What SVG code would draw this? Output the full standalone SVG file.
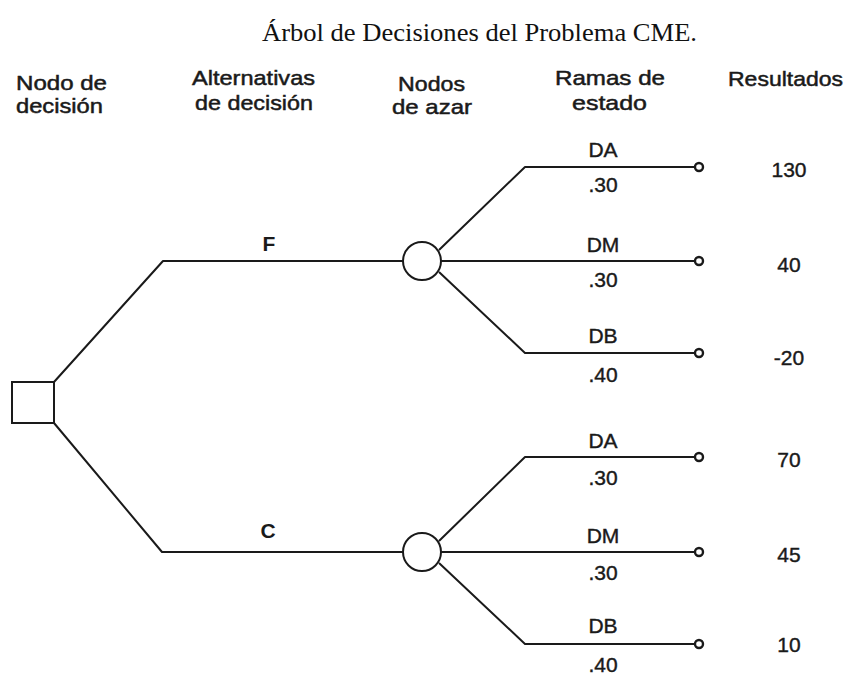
<svg xmlns="http://www.w3.org/2000/svg" width="852" height="677" viewBox="0 0 852 677">
  <style>
    .bg { fill: #ffffff; }
    .title { font-family: "Liberation Serif", "Times New Roman", serif; font-size: 26px; fill: #111; }
    .head { font-family: "Liberation Sans", Arial, sans-serif; font-size: 21px; fill: #1a1a1a; stroke: #1a1a1a; stroke-width: 0.5; }
    .lbl { font-family: "Liberation Sans", Arial, sans-serif; font-size: 21px; fill: #1a1a1a; stroke: #1a1a1a; stroke-width: 0.4; text-anchor: middle; }
    .alt { font-family: "Liberation Sans", Arial, sans-serif; font-size: 21px; font-weight: bold; fill: #1a1a1a; text-anchor: middle; }
    .edge { fill: none; stroke: #1a1a1a; stroke-width: 2; stroke-linejoin: round; }
    .node { fill: #ffffff; stroke: #1a1a1a; stroke-width: 2; }
    .end { fill: #ffffff; stroke: #1a1a1a; stroke-width: 2.4; }
  </style>

  <rect class="bg" x="0" y="0" width="852" height="677"/>

  <text class="title" x="262" y="41" textLength="435" lengthAdjust="spacingAndGlyphs">Árbol de Decisiones del Problema CME.</text>

  <!-- column headings -->
  <g id="headings">
    <text class="head" x="16" y="90" textLength="91" lengthAdjust="spacingAndGlyphs">Nodo de</text>
    <text class="head" x="16" y="113" textLength="87" lengthAdjust="spacingAndGlyphs">decisión</text>
    <text class="head" x="192" y="85" textLength="123" lengthAdjust="spacingAndGlyphs">Alternativas</text>
    <text class="head" x="195" y="110" textLength="118" lengthAdjust="spacingAndGlyphs">de decisión</text>
    <text class="head" x="398" y="91" textLength="67" lengthAdjust="spacingAndGlyphs">Nodos</text>
    <text class="head" x="392" y="114" textLength="80" lengthAdjust="spacingAndGlyphs">de azar</text>
    <text class="head" x="555" y="85" textLength="110" lengthAdjust="spacingAndGlyphs">Ramas de</text>
    <text class="head" x="572" y="110" textLength="75" lengthAdjust="spacingAndGlyphs">estado</text>
    <text class="head" x="728" y="86" textLength="115" lengthAdjust="spacingAndGlyphs">Resultados</text>
  </g>

  <!-- branches -->
  <g id="connectors">
    <!-- decision alternatives -->
    <polyline class="edge" points="54,382 163,261 403,261"/>
    <polyline class="edge" points="54,423 162,552 403,552"/>
    <!-- state branches, alternative F -->
    <polyline class="edge" points="439,250 525,167 695,167"/>
    <line class="edge" x1="441" y1="261" x2="695" y2="261"/>
    <polyline class="edge" points="439,272 525,353 695,353"/>
    <!-- state branches, alternative C -->
    <polyline class="edge" points="439,541 525,457 695,457"/>
    <line class="edge" x1="441" y1="552" x2="695" y2="552"/>
    <polyline class="edge" points="439,563 525,644 695,644"/>
  </g>

  <!-- decision node -->
  <g id="decision">
    <rect class="node" x="12" y="382" width="42" height="41"/>
  </g>

  <!-- alternative F -->
  <g id="alt-F">
    <text class="alt" x="269" y="251">F</text>
  </g>
  <g id="chance-F">
    <circle class="node" cx="422" cy="261" r="19"/>
  </g>

  <!-- alternative C -->
  <g id="alt-C">
    <text class="alt" x="268" y="538">C</text>
  </g>
  <g id="chance-C">
    <circle class="node" cx="422" cy="552" r="19"/>
  </g>

  <!-- outcomes under F -->
  <g id="F-DA">
    <text class="lbl" x="603" y="157">DA</text>
    <text class="lbl" x="603" y="192">.30</text>
    <circle class="end" cx="699" cy="167" r="4"/>
    <text class="lbl" x="789" y="177">130</text>
  </g>
  <g id="F-DM">
    <text class="lbl" x="603" y="252">DM</text>
    <text class="lbl" x="603" y="287">.30</text>
    <circle class="end" cx="699" cy="261" r="4"/>
    <text class="lbl" x="789" y="272">40</text>
  </g>
  <g id="F-DB">
    <text class="lbl" x="603" y="343">DB</text>
    <text class="lbl" x="603" y="382">.40</text>
    <circle class="end" cx="699" cy="353" r="4"/>
    <text class="lbl" x="789" y="365">-20</text>
  </g>

  <!-- outcomes under C -->
  <g id="C-DA">
    <text class="lbl" x="603" y="448">DA</text>
    <text class="lbl" x="603" y="485">.30</text>
    <circle class="end" cx="699" cy="457" r="4"/>
    <text class="lbl" x="789" y="467">70</text>
  </g>
  <g id="C-DM">
    <text class="lbl" x="603" y="543">DM</text>
    <text class="lbl" x="603" y="580">.30</text>
    <circle class="end" cx="699" cy="552" r="4"/>
    <text class="lbl" x="789" y="562">45</text>
  </g>
  <g id="C-DB">
    <text class="lbl" x="603" y="633">DB</text>
    <text class="lbl" x="603" y="672">.40</text>
    <circle class="end" cx="699" cy="644" r="4"/>
    <text class="lbl" x="789" y="652">10</text>
  </g>
</svg>
